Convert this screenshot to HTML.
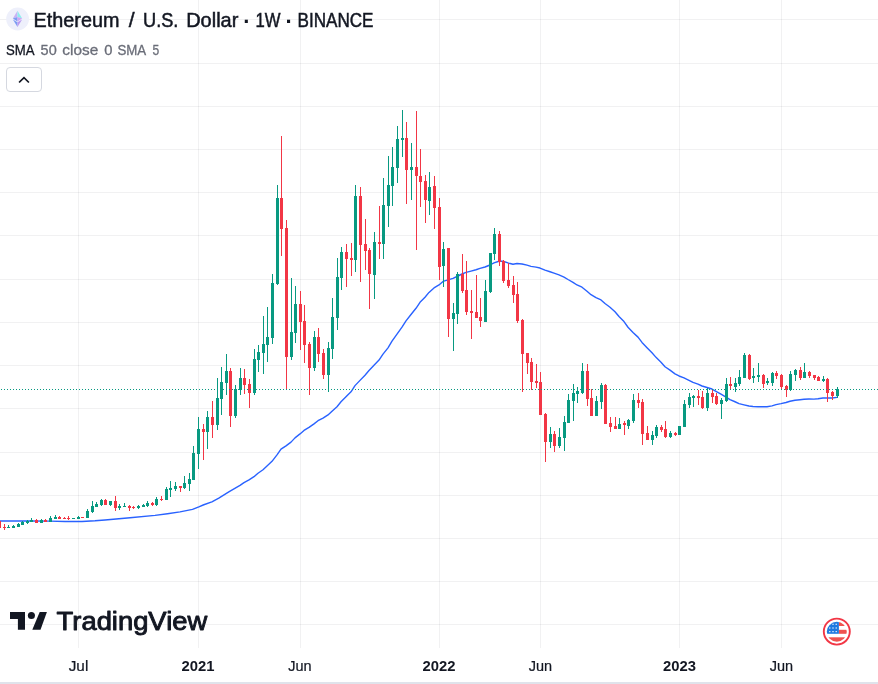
<!DOCTYPE html>
<html lang="en"><head><meta charset="utf-8"><title>Ethereum / U.S. Dollar</title>
<style>html,body{margin:0;padding:0;background:#fff}body{width:878px;height:684px;overflow:hidden}svg{display:block;will-change:transform;opacity:.999}text{font-family:"Liberation Sans",Arial,sans-serif}</style></head><body>
<svg width="878" height="684" viewBox="0 0 878 684">
<rect width="878" height="684" fill="#fff"/>
<g fill="rgba(42,46,57,0.065)" shape-rendering="crispEdges">
<rect x="0" y="19" width="878" height="1"/>
<rect x="0" y="63" width="878" height="1"/>
<rect x="0" y="106" width="878" height="1"/>
<rect x="0" y="149" width="878" height="1"/>
<rect x="0" y="192" width="878" height="1"/>
<rect x="0" y="235" width="878" height="1"/>
<rect x="0" y="279" width="878" height="1"/>
<rect x="0" y="322" width="878" height="1"/>
<rect x="0" y="365" width="878" height="1"/>
<rect x="0" y="408" width="878" height="1"/>
<rect x="0" y="452" width="878" height="1"/>
<rect x="0" y="495" width="878" height="1"/>
<rect x="0" y="538" width="878" height="1"/>
<rect x="0" y="581" width="878" height="1"/>
<rect x="0" y="624" width="878" height="1"/>
<rect x="78" y="0" width="1" height="648"/>
<rect x="198" y="0" width="1" height="648"/>
<rect x="300" y="0" width="1" height="648"/>
<rect x="439" y="0" width="1" height="648"/>
<rect x="540" y="0" width="1" height="648"/>
<rect x="679" y="0" width="1" height="648"/>
<rect x="781" y="0" width="1" height="648"/>
</g>
<path d="M-2.0,521.00 L30.0,521.00 L50.0,521.10 L65.0,521.50 L82.0,521.50 L95.0,520.80 L105.0,520.00 L130.0,517.75 L155.0,515.40 L167.5,513.75 L180.0,511.90 L192.5,509.40 L198.8,506.90 L203.8,504.75 L211.9,501.90 L218.8,498.10 L228.8,491.90 L240.0,485.42 L244.0,482.58 L249.0,479.94 L254.0,476.68 L258.0,473.30 L263.0,469.78 L267.0,466.08 L272.0,461.34 L277.0,454.88 L281.0,449.08 L286.0,445.86 L291.0,442.14 L295.0,437.86 L300.0,433.92 L304.0,430.44 L309.0,427.44 L314.0,423.84 L318.0,420.68 L323.0,418.04 L328.0,414.92 L332.0,411.26 L337.0,406.72 L341.0,401.74 L346.0,396.76 L351.0,391.82 L355.0,385.62 L360.0,380.36 L365.0,375.22 L369.0,370.56 L374.0,365.30 L379.0,360.10 L383.0,354.12 L388.0,347.84 L392.0,341.20 L397.0,334.20 L402.0,327.20 L406.0,320.86 L411.0,314.46 L416.0,308.30 L420.0,302.34 L425.0,297.26 L429.0,292.42 L434.0,287.94 L439.0,284.92 L443.0,281.42 L448.0,279.82 L453.0,278.44 L457.0,276.50 L462.0,274.00 L466.0,272.44 L471.0,271.12 L476.0,269.78 L480.0,268.34 L485.0,266.98 L490.0,265.00 L494.0,262.80 L499.0,261.28 L503.0,261.22 L508.0,262.96 L513.0,264.28 L517.0,263.56 L522.0,263.98 L527.0,265.14 L531.0,266.34 L536.0,267.10 L540.0,268.04 L545.0,270.12 L550.0,271.74 L554.0,273.16 L559.0,274.94 L564.0,277.04 L568.0,279.50 L573.0,282.32 L577.0,284.98 L582.0,287.22 L587.0,291.26 L591.0,294.68 L596.0,297.70 L601.0,299.94 L605.0,303.56 L610.0,307.22 L615.0,311.68 L619.0,316.46 L624.0,321.60 L628.0,327.22 L633.0,332.46 L638.0,337.12 L642.0,342.44 L647.0,347.72 L652.0,352.80 L656.0,357.36 L661.0,362.20 L665.0,366.78 L670.0,370.12 L675.0,373.82 L679.0,375.98 L684.0,377.80 L689.0,380.26 L693.0,382.38 L698.0,384.10 L702.0,386.00 L707.0,387.52 L712.0,389.04 L716.0,391.28 L721.0,394.22 L726.0,397.22 L730.0,399.70 L735.0,401.76 L739.0,403.60 L744.0,404.82 L749.0,405.98 L753.0,406.44 L758.0,406.70 L763.0,406.74 L767.0,406.72 L772.0,405.90 L776.0,404.58 L781.0,403.62 L786.0,402.50 L790.0,401.24 L795.0,400.20 L800.0,399.74 L804.0,399.32 L809.0,399.00 L814.0,399.12 L818.0,398.76 L823.0,398.04 L827.0,397.86 L832.0,398.06 L837.0,397.38" fill="none" stroke="#2962ff" stroke-width="1.4" stroke-linejoin="round" stroke-linecap="round"/>
<g fill="#089981" shape-rendering="crispEdges">
<rect x="8" y="525" width="1" height="3"/>
<rect x="7" y="527" width="3" height="1"/>
<rect x="13" y="525" width="1" height="3"/>
<rect x="12" y="526" width="3" height="2"/>
<rect x="18" y="523" width="1" height="4"/>
<rect x="17" y="524" width="3" height="3"/>
<rect x="22" y="521" width="1" height="4"/>
<rect x="21" y="522" width="3" height="3"/>
<rect x="27" y="520" width="1" height="4"/>
<rect x="26" y="521" width="3" height="2"/>
<rect x="31" y="518" width="1" height="4"/>
<rect x="30" y="520" width="3" height="2"/>
<rect x="41" y="519" width="1" height="4"/>
<rect x="40" y="520" width="3" height="3"/>
<rect x="50" y="516" width="1" height="6"/>
<rect x="49" y="518" width="3" height="4"/>
<rect x="55" y="515" width="1" height="4"/>
<rect x="54" y="517" width="3" height="2"/>
<rect x="72" y="518" width="3" height="1"/>
<rect x="78" y="516" width="1" height="3"/>
<rect x="77" y="517" width="3" height="2"/>
<rect x="87" y="509" width="1" height="9"/>
<rect x="86" y="511" width="3" height="7"/>
<rect x="92" y="501" width="1" height="12"/>
<rect x="91" y="506" width="3" height="6"/>
<rect x="96" y="502" width="1" height="5"/>
<rect x="95" y="504" width="3" height="3"/>
<rect x="101" y="499" width="1" height="7"/>
<rect x="100" y="500" width="3" height="5"/>
<rect x="110" y="501" width="1" height="5"/>
<rect x="109" y="501" width="3" height="4"/>
<rect x="119" y="504" width="1" height="6"/>
<rect x="118" y="506" width="3" height="2"/>
<rect x="124" y="503" width="1" height="4"/>
<rect x="123" y="506" width="3" height="1"/>
<rect x="138" y="505" width="1" height="4"/>
<rect x="137" y="506" width="3" height="2"/>
<rect x="143" y="504" width="1" height="3"/>
<rect x="142" y="505" width="3" height="2"/>
<rect x="147" y="501" width="1" height="6"/>
<rect x="146" y="503" width="3" height="3"/>
<rect x="156" y="497" width="1" height="9"/>
<rect x="155" y="499" width="3" height="6"/>
<rect x="166" y="487" width="1" height="13"/>
<rect x="165" y="489" width="3" height="11"/>
<rect x="170" y="481" width="1" height="16"/>
<rect x="169" y="488" width="3" height="2"/>
<rect x="175" y="482" width="1" height="9"/>
<rect x="174" y="486" width="3" height="3"/>
<rect x="184" y="476" width="1" height="13"/>
<rect x="183" y="483" width="3" height="5"/>
<rect x="189" y="473" width="1" height="18"/>
<rect x="188" y="479" width="3" height="5"/>
<rect x="193" y="446" width="1" height="34"/>
<rect x="192" y="453" width="3" height="27"/>
<rect x="198" y="417" width="1" height="52"/>
<rect x="197" y="429" width="3" height="25"/>
<rect x="207" y="411" width="1" height="38"/>
<rect x="206" y="417" width="3" height="15"/>
<rect x="217" y="378" width="1" height="52"/>
<rect x="216" y="398" width="3" height="27"/>
<rect x="221" y="367" width="1" height="48"/>
<rect x="220" y="382" width="3" height="17"/>
<rect x="226" y="354" width="1" height="41"/>
<rect x="225" y="371" width="3" height="12"/>
<rect x="235" y="385" width="1" height="33"/>
<rect x="234" y="389" width="3" height="27"/>
<rect x="240" y="368" width="1" height="27"/>
<rect x="239" y="378" width="3" height="12"/>
<rect x="254" y="349" width="1" height="46"/>
<rect x="253" y="359" width="3" height="34"/>
<rect x="258" y="345" width="1" height="27"/>
<rect x="257" y="352" width="3" height="8"/>
<rect x="263" y="316" width="1" height="58"/>
<rect x="262" y="344" width="3" height="9"/>
<rect x="267" y="307" width="1" height="55"/>
<rect x="266" y="337" width="3" height="8"/>
<rect x="272" y="274" width="1" height="70"/>
<rect x="271" y="283" width="3" height="55"/>
<rect x="277" y="185" width="1" height="100"/>
<rect x="276" y="198" width="3" height="86"/>
<rect x="291" y="278" width="1" height="82"/>
<rect x="290" y="332" width="3" height="25"/>
<rect x="295" y="286" width="1" height="57"/>
<rect x="294" y="304" width="3" height="29"/>
<rect x="314" y="331" width="1" height="40"/>
<rect x="313" y="337" width="3" height="31"/>
<rect x="328" y="342" width="1" height="50"/>
<rect x="327" y="348" width="3" height="27"/>
<rect x="332" y="298" width="1" height="61"/>
<rect x="331" y="317" width="3" height="32"/>
<rect x="337" y="258" width="1" height="72"/>
<rect x="336" y="277" width="3" height="41"/>
<rect x="341" y="247" width="1" height="43"/>
<rect x="340" y="252" width="3" height="26"/>
<rect x="355" y="185" width="1" height="87"/>
<rect x="354" y="196" width="3" height="64"/>
<rect x="374" y="232" width="1" height="67"/>
<rect x="373" y="242" width="3" height="33"/>
<rect x="383" y="178" width="1" height="81"/>
<rect x="382" y="205" width="3" height="39"/>
<rect x="388" y="156" width="1" height="71"/>
<rect x="387" y="185" width="3" height="21"/>
<rect x="392" y="147" width="1" height="59"/>
<rect x="391" y="167" width="3" height="19"/>
<rect x="397" y="126" width="1" height="57"/>
<rect x="396" y="139" width="3" height="29"/>
<rect x="402" y="110" width="1" height="47"/>
<rect x="401" y="138" width="3" height="2"/>
<rect x="411" y="143" width="1" height="57"/>
<rect x="410" y="167" width="3" height="3"/>
<rect x="429" y="172" width="1" height="43"/>
<rect x="428" y="187" width="3" height="14"/>
<rect x="443" y="242" width="1" height="45"/>
<rect x="442" y="249" width="3" height="17"/>
<rect x="453" y="303" width="1" height="48"/>
<rect x="452" y="313" width="3" height="6"/>
<rect x="457" y="272" width="1" height="52"/>
<rect x="456" y="274" width="3" height="40"/>
<rect x="485" y="280" width="1" height="42"/>
<rect x="484" y="291" width="3" height="31"/>
<rect x="490" y="253" width="1" height="40"/>
<rect x="489" y="253" width="3" height="39"/>
<rect x="494" y="228" width="1" height="32"/>
<rect x="493" y="234" width="3" height="20"/>
<rect x="550" y="427" width="1" height="21"/>
<rect x="549" y="434" width="3" height="8"/>
<rect x="559" y="428" width="1" height="20"/>
<rect x="558" y="437" width="3" height="9"/>
<rect x="564" y="416" width="1" height="35"/>
<rect x="563" y="422" width="3" height="16"/>
<rect x="568" y="394" width="1" height="29"/>
<rect x="567" y="400" width="3" height="23"/>
<rect x="573" y="384" width="1" height="37"/>
<rect x="572" y="393" width="3" height="8"/>
<rect x="577" y="387" width="1" height="16"/>
<rect x="576" y="391" width="3" height="3"/>
<rect x="582" y="363" width="1" height="31"/>
<rect x="581" y="371" width="3" height="22"/>
<rect x="596" y="396" width="1" height="20"/>
<rect x="595" y="401" width="3" height="15"/>
<rect x="601" y="383" width="1" height="26"/>
<rect x="600" y="385" width="3" height="17"/>
<rect x="619" y="418" width="1" height="11"/>
<rect x="618" y="424" width="3" height="5"/>
<rect x="628" y="419" width="1" height="10"/>
<rect x="627" y="420" width="3" height="6"/>
<rect x="633" y="394" width="1" height="29"/>
<rect x="632" y="400" width="3" height="21"/>
<rect x="652" y="431" width="1" height="14"/>
<rect x="651" y="435" width="3" height="5"/>
<rect x="656" y="425" width="1" height="13"/>
<rect x="655" y="427" width="3" height="9"/>
<rect x="670" y="431" width="1" height="7"/>
<rect x="669" y="433" width="3" height="4"/>
<rect x="678" y="426" width="3" height="9"/>
<rect x="684" y="400" width="1" height="27"/>
<rect x="683" y="404" width="3" height="23"/>
<rect x="689" y="393" width="1" height="15"/>
<rect x="688" y="397" width="3" height="8"/>
<rect x="693" y="395" width="1" height="12"/>
<rect x="692" y="396" width="3" height="2"/>
<rect x="707" y="388" width="1" height="23"/>
<rect x="706" y="393" width="3" height="15"/>
<rect x="721" y="398" width="1" height="21"/>
<rect x="720" y="400" width="3" height="4"/>
<rect x="726" y="378" width="1" height="24"/>
<rect x="725" y="384" width="3" height="17"/>
<rect x="735" y="378" width="1" height="14"/>
<rect x="734" y="383" width="3" height="4"/>
<rect x="739" y="370" width="1" height="16"/>
<rect x="738" y="377" width="3" height="7"/>
<rect x="744" y="353" width="1" height="25"/>
<rect x="743" y="355" width="3" height="23"/>
<rect x="753" y="368" width="1" height="15"/>
<rect x="752" y="376" width="3" height="2"/>
<rect x="758" y="363" width="1" height="19"/>
<rect x="757" y="375" width="3" height="2"/>
<rect x="767" y="378" width="1" height="7"/>
<rect x="766" y="381" width="3" height="2"/>
<rect x="772" y="372" width="1" height="14"/>
<rect x="771" y="373" width="3" height="10"/>
<rect x="790" y="371" width="1" height="20"/>
<rect x="789" y="374" width="3" height="16"/>
<rect x="795" y="369" width="1" height="12"/>
<rect x="794" y="370" width="3" height="5"/>
<rect x="804" y="363" width="1" height="15"/>
<rect x="803" y="372" width="3" height="6"/>
<rect x="823" y="376" width="1" height="6"/>
<rect x="822" y="379" width="3" height="2"/>
<rect x="837" y="387" width="1" height="11"/>
<rect x="836" y="389" width="3" height="7"/>
</g>
<g fill="#f23645" shape-rendering="crispEdges">
<rect x="-2" y="521" width="3" height="7"/>
<rect x="4" y="524" width="1" height="6"/>
<rect x="3" y="527" width="3" height="1"/>
<rect x="36" y="519" width="1" height="4"/>
<rect x="35" y="520" width="3" height="3"/>
<rect x="45" y="519" width="1" height="3"/>
<rect x="44" y="520" width="3" height="2"/>
<rect x="59" y="516" width="1" height="3"/>
<rect x="58" y="517" width="3" height="2"/>
<rect x="64" y="517" width="1" height="2"/>
<rect x="63" y="518" width="3" height="1"/>
<rect x="68" y="516" width="1" height="4"/>
<rect x="67" y="518" width="3" height="1"/>
<rect x="81" y="517" width="3" height="1"/>
<rect x="105" y="499" width="1" height="6"/>
<rect x="104" y="500" width="3" height="5"/>
<rect x="115" y="496" width="1" height="15"/>
<rect x="114" y="501" width="3" height="7"/>
<rect x="129" y="505" width="1" height="6"/>
<rect x="128" y="506" width="3" height="2"/>
<rect x="133" y="506" width="1" height="3"/>
<rect x="132" y="507" width="3" height="1"/>
<rect x="152" y="502" width="1" height="4"/>
<rect x="151" y="503" width="3" height="2"/>
<rect x="161" y="496" width="1" height="5"/>
<rect x="160" y="499" width="3" height="1"/>
<rect x="180" y="486" width="1" height="6"/>
<rect x="179" y="486" width="3" height="2"/>
<rect x="203" y="424" width="1" height="36"/>
<rect x="202" y="429" width="3" height="3"/>
<rect x="212" y="401" width="1" height="37"/>
<rect x="211" y="417" width="3" height="8"/>
<rect x="230" y="368" width="1" height="59"/>
<rect x="229" y="371" width="3" height="45"/>
<rect x="244" y="369" width="1" height="25"/>
<rect x="243" y="378" width="3" height="7"/>
<rect x="249" y="379" width="1" height="29"/>
<rect x="248" y="384" width="3" height="9"/>
<rect x="281" y="136" width="1" height="120"/>
<rect x="280" y="198" width="3" height="31"/>
<rect x="286" y="220" width="1" height="169"/>
<rect x="285" y="228" width="3" height="129"/>
<rect x="300" y="291" width="1" height="59"/>
<rect x="299" y="304" width="3" height="18"/>
<rect x="304" y="305" width="1" height="58"/>
<rect x="303" y="321" width="3" height="24"/>
<rect x="309" y="342" width="1" height="53"/>
<rect x="308" y="344" width="3" height="24"/>
<rect x="318" y="328" width="1" height="34"/>
<rect x="317" y="337" width="3" height="17"/>
<rect x="323" y="349" width="1" height="30"/>
<rect x="322" y="353" width="3" height="22"/>
<rect x="346" y="244" width="1" height="43"/>
<rect x="345" y="252" width="3" height="7"/>
<rect x="351" y="243" width="1" height="33"/>
<rect x="350" y="258" width="3" height="2"/>
<rect x="360" y="187" width="1" height="95"/>
<rect x="359" y="196" width="3" height="49"/>
<rect x="365" y="219" width="1" height="51"/>
<rect x="364" y="244" width="3" height="7"/>
<rect x="369" y="248" width="1" height="61"/>
<rect x="368" y="250" width="3" height="24"/>
<rect x="379" y="206" width="1" height="53"/>
<rect x="378" y="242" width="3" height="2"/>
<rect x="406" y="122" width="1" height="82"/>
<rect x="405" y="138" width="3" height="32"/>
<rect x="416" y="111" width="1" height="139"/>
<rect x="415" y="167" width="3" height="9"/>
<rect x="420" y="149" width="1" height="58"/>
<rect x="419" y="176" width="3" height="6"/>
<rect x="425" y="175" width="1" height="48"/>
<rect x="424" y="181" width="3" height="19"/>
<rect x="434" y="176" width="1" height="53"/>
<rect x="433" y="186" width="3" height="22"/>
<rect x="439" y="198" width="1" height="82"/>
<rect x="438" y="207" width="3" height="60"/>
<rect x="448" y="248" width="1" height="89"/>
<rect x="447" y="248" width="3" height="71"/>
<rect x="462" y="254" width="1" height="39"/>
<rect x="461" y="274" width="3" height="17"/>
<rect x="466" y="261" width="1" height="54"/>
<rect x="465" y="290" width="3" height="22"/>
<rect x="471" y="290" width="1" height="49"/>
<rect x="470" y="311" width="3" height="2"/>
<rect x="476" y="275" width="1" height="43"/>
<rect x="475" y="312" width="3" height="6"/>
<rect x="480" y="298" width="1" height="29"/>
<rect x="479" y="317" width="3" height="4"/>
<rect x="499" y="231" width="1" height="35"/>
<rect x="498" y="234" width="3" height="28"/>
<rect x="503" y="260" width="1" height="23"/>
<rect x="502" y="261" width="3" height="20"/>
<rect x="508" y="263" width="1" height="25"/>
<rect x="507" y="280" width="3" height="6"/>
<rect x="513" y="276" width="1" height="27"/>
<rect x="512" y="285" width="3" height="10"/>
<rect x="517" y="282" width="1" height="41"/>
<rect x="516" y="294" width="3" height="27"/>
<rect x="522" y="319" width="1" height="73"/>
<rect x="521" y="320" width="3" height="34"/>
<rect x="527" y="353" width="1" height="21"/>
<rect x="526" y="353" width="3" height="10"/>
<rect x="531" y="358" width="1" height="32"/>
<rect x="530" y="362" width="3" height="20"/>
<rect x="536" y="364" width="1" height="24"/>
<rect x="535" y="381" width="3" height="2"/>
<rect x="540" y="372" width="1" height="43"/>
<rect x="539" y="382" width="3" height="33"/>
<rect x="545" y="413" width="1" height="49"/>
<rect x="544" y="414" width="3" height="28"/>
<rect x="554" y="431" width="1" height="21"/>
<rect x="553" y="434" width="3" height="12"/>
<rect x="587" y="364" width="1" height="42"/>
<rect x="586" y="371" width="3" height="28"/>
<rect x="591" y="389" width="1" height="27"/>
<rect x="590" y="398" width="3" height="18"/>
<rect x="605" y="384" width="1" height="40"/>
<rect x="604" y="385" width="3" height="39"/>
<rect x="610" y="417" width="1" height="15"/>
<rect x="609" y="423" width="3" height="4"/>
<rect x="615" y="417" width="1" height="12"/>
<rect x="614" y="426" width="3" height="3"/>
<rect x="624" y="421" width="1" height="14"/>
<rect x="623" y="423" width="3" height="2"/>
<rect x="638" y="393" width="1" height="15"/>
<rect x="637" y="400" width="3" height="3"/>
<rect x="642" y="399" width="1" height="46"/>
<rect x="641" y="402" width="3" height="32"/>
<rect x="647" y="426" width="1" height="14"/>
<rect x="646" y="433" width="3" height="7"/>
<rect x="661" y="425" width="1" height="7"/>
<rect x="660" y="427" width="3" height="3"/>
<rect x="665" y="421" width="1" height="17"/>
<rect x="664" y="429" width="3" height="8"/>
<rect x="675" y="432" width="1" height="4"/>
<rect x="674" y="433" width="3" height="2"/>
<rect x="698" y="390" width="1" height="15"/>
<rect x="697" y="396" width="3" height="2"/>
<rect x="702" y="391" width="1" height="18"/>
<rect x="701" y="397" width="3" height="11"/>
<rect x="712" y="390" width="1" height="13"/>
<rect x="711" y="393" width="3" height="4"/>
<rect x="716" y="393" width="1" height="12"/>
<rect x="715" y="396" width="3" height="8"/>
<rect x="730" y="377" width="1" height="13"/>
<rect x="729" y="384" width="3" height="2"/>
<rect x="749" y="354" width="1" height="26"/>
<rect x="748" y="355" width="3" height="24"/>
<rect x="763" y="374" width="1" height="14"/>
<rect x="762" y="375" width="3" height="9"/>
<rect x="776" y="371" width="1" height="8"/>
<rect x="775" y="373" width="3" height="3"/>
<rect x="781" y="374" width="1" height="15"/>
<rect x="780" y="375" width="3" height="12"/>
<rect x="786" y="385" width="1" height="12"/>
<rect x="785" y="386" width="3" height="4"/>
<rect x="800" y="367" width="1" height="13"/>
<rect x="799" y="370" width="3" height="8"/>
<rect x="809" y="371" width="1" height="7"/>
<rect x="808" y="372" width="3" height="4"/>
<rect x="814" y="375" width="1" height="5"/>
<rect x="813" y="375" width="3" height="3"/>
<rect x="818" y="376" width="1" height="5"/>
<rect x="817" y="377" width="3" height="4"/>
<rect x="827" y="378" width="1" height="24"/>
<rect x="826" y="379" width="3" height="14"/>
<rect x="832" y="391" width="1" height="9"/>
<rect x="831" y="392" width="3" height="4"/>
</g>
<g fill="#089981" shape-rendering="crispEdges">
<path d="M1 389.5H878" stroke="#089981" stroke-width="1" stroke-dasharray="1 2" fill="none"/>
</g>
<circle cx="17.6" cy="19" r="11.4" fill="#eef0fb"/>
<g>
<polygon points="17.5,10.7 12.8,18.6 17.5,16.9" fill="#c9b3f5"/>
<polygon points="17.5,10.7 22.2,18.6 17.5,16.9" fill="#8eeeee"/>
<polygon points="12.8,18.6 17.5,16.9 17.5,21.6" fill="#7c9cf2"/>
<polygon points="22.2,18.6 17.5,16.9 17.5,21.6" fill="#cfa6f3"/>
<polygon points="12.9,19.5 17.5,22.3 17.5,27" fill="#7c9cf2"/>
<polygon points="22.1,19.5 17.5,22.3 17.5,27" fill="#bb9af1"/>
</g>
<text x="33.6" y="26.8" font-size="19.8" fill="#131722" font-weight="normal" text-anchor="start" textLength="85.8" lengthAdjust="spacingAndGlyphs" stroke="#131722" stroke-width="0.5">Ethereum</text>
<text x="128.7" y="27.4" font-size="21" fill="#131722" font-weight="normal" text-anchor="start" stroke="#131722" stroke-width="0.5">/</text>
<text x="143.0" y="26.8" font-size="19.8" fill="#131722" font-weight="normal" text-anchor="start" textLength="35.4" lengthAdjust="spacingAndGlyphs" stroke="#131722" stroke-width="0.5">U.S.</text>
<text x="186.2" y="26.8" font-size="19.8" fill="#131722" font-weight="normal" text-anchor="start" textLength="52.2" lengthAdjust="spacingAndGlyphs" stroke="#131722" stroke-width="0.5">Dollar</text>
<text x="246.9" y="28.8" font-size="22" fill="#131722" font-weight="bold" text-anchor="middle">·</text>
<text x="255.6" y="26.8" font-size="19.8" fill="#131722" font-weight="normal" text-anchor="start" textLength="25" lengthAdjust="spacingAndGlyphs" stroke="#131722" stroke-width="0.5">1W</text>
<text x="289.2" y="28.8" font-size="22" fill="#131722" font-weight="bold" text-anchor="middle">·</text>
<text x="297.5" y="26.8" font-size="19.8" fill="#131722" font-weight="normal" text-anchor="start" textLength="76" lengthAdjust="spacingAndGlyphs" stroke="#131722" stroke-width="0.5">BINANCE</text>
<text x="5.9" y="55" font-size="14.3" fill="#131722" font-weight="normal" text-anchor="start" textLength="28.6" lengthAdjust="spacingAndGlyphs" stroke="#131722" stroke-width="0.3">SMA</text>
<text x="40.6" y="55" font-size="14.3" fill="#6a6d78" font-weight="normal" text-anchor="start" textLength="16.1" lengthAdjust="spacingAndGlyphs" stroke="#6a6d78" stroke-width="0.3">50</text>
<text x="62.3" y="55" font-size="14.3" fill="#6a6d78" font-weight="normal" text-anchor="start" textLength="35.9" lengthAdjust="spacingAndGlyphs" stroke="#6a6d78" stroke-width="0.3">close</text>
<text x="104.2" y="55" font-size="14.3" fill="#6a6d78" font-weight="normal" text-anchor="start" textLength="8.2" lengthAdjust="spacingAndGlyphs" stroke="#6a6d78" stroke-width="0.3">0</text>
<text x="117.4" y="55" font-size="14.3" fill="#6a6d78" font-weight="normal" text-anchor="start" textLength="28.8" lengthAdjust="spacingAndGlyphs" stroke="#6a6d78" stroke-width="0.3">SMA</text>
<text x="152.4" y="55" font-size="14.3" fill="#6a6d78" font-weight="normal" text-anchor="start" textLength="6.7" lengthAdjust="spacingAndGlyphs" stroke="#6a6d78" stroke-width="0.3">5</text>
<rect x="6.5" y="67.5" width="35" height="24" rx="3.5" fill="#fff" stroke="#d5d8e0" stroke-width="1"/>
<path d="M19.7 81.9L24 77.7L28.3 81.9" fill="none" stroke="#131722" stroke-width="1.7" stroke-linecap="square" stroke-linejoin="miter"/>
<g fill="#131722">
<path d="M10 612H25V629.8H17.9V619H10Z"/>
<circle cx="31.4" cy="615.45" r="3.55"/>
<path d="M39.7 612H46.9L40.5 629.8H32.3Z"/>
</g>
<text x="56.6" y="629.8" font-size="25" fill="#131722" font-weight="normal" text-anchor="start" textLength="150.6" lengthAdjust="spacingAndGlyphs" stroke="#131722" stroke-width="0.9" stroke-linejoin="round">TradingView</text>
<circle cx="836.8" cy="631.6" r="13" fill="#fff" stroke="#f23645" stroke-width="1.9"/>
<clipPath id="fc"><circle cx="836.8" cy="631.8000000000001" r="10"/></clipPath>
<g clip-path="url(#fc)">
<rect x="826" y="621" width="22" height="22" fill="#fff"/>
<rect x="838.9" y="621" width="10" height="5" fill="#ef5350"/>
<rect x="838.9" y="629.8" width="10" height="4" fill="#ef5350"/>
<rect x="826" y="637.3" width="22" height="5" fill="#ef5350"/>
<rect x="826" y="621" width="12.9" height="12.8" fill="#1f7ae0"/>
<rect x="829.1999999999999" y="623.6999999999999" width="1.2" height="1.2" fill="#fff"/>
<rect x="832.4" y="623.6999999999999" width="1.2" height="1.2" fill="#fff"/>
<rect x="835.6" y="623.6999999999999" width="1.2" height="1.2" fill="#fff"/>
<rect x="829.1999999999999" y="627.4" width="1.2" height="1.2" fill="#fff"/>
<rect x="832.4" y="627.4" width="1.2" height="1.2" fill="#fff"/>
<rect x="835.6" y="627.4" width="1.2" height="1.2" fill="#fff"/>
<rect x="829.1999999999999" y="631.0" width="1.2" height="1.2" fill="#fff"/>
<rect x="832.4" y="631.0" width="1.2" height="1.2" fill="#fff"/>
<rect x="835.6" y="631.0" width="1.2" height="1.2" fill="#fff"/>
</g>
<text x="78.5" y="671" font-size="14.3" fill="#131722" font-weight="normal" text-anchor="middle" textLength="19.6" lengthAdjust="spacingAndGlyphs" stroke="#131722" stroke-width="0.2">Jul</text>
<text x="198" y="671" font-size="14.3" fill="#131722" font-weight="bold" text-anchor="middle" textLength="33" lengthAdjust="spacingAndGlyphs">2021</text>
<text x="300" y="671" font-size="14.3" fill="#131722" font-weight="normal" text-anchor="middle" textLength="23.4" lengthAdjust="spacingAndGlyphs" stroke="#131722" stroke-width="0.2">Jun</text>
<text x="439" y="671" font-size="14.3" fill="#131722" font-weight="bold" text-anchor="middle" textLength="33" lengthAdjust="spacingAndGlyphs">2022</text>
<text x="540.5" y="671" font-size="14.3" fill="#131722" font-weight="normal" text-anchor="middle" textLength="23.4" lengthAdjust="spacingAndGlyphs" stroke="#131722" stroke-width="0.2">Jun</text>
<text x="679.5" y="671" font-size="14.3" fill="#131722" font-weight="bold" text-anchor="middle" textLength="33" lengthAdjust="spacingAndGlyphs">2023</text>
<text x="781.5" y="671" font-size="14.3" fill="#131722" font-weight="normal" text-anchor="middle" textLength="23.4" lengthAdjust="spacingAndGlyphs" stroke="#131722" stroke-width="0.2">Jun</text>
<rect x="0" y="682" width="878" height="2" fill="#e0e3eb" shape-rendering="crispEdges"/>
</svg></body></html>
